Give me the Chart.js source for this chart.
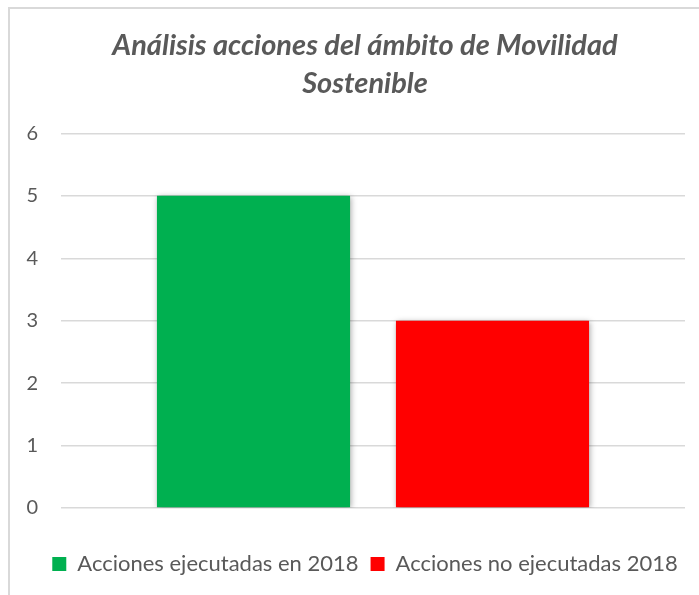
<!DOCTYPE html>
<html>
<head>
<meta charset="utf-8">
<script src="https://cdn.jsdelivr.net/npm/chart.js@4"></script>
<style>
  body { margin: 0; background: #fff; }
  #wrap { position: relative; width: 699px; height: 595px; overflow: hidden; }
  #frame { position: absolute; left: 8px; top: 7px; width: 760px; height: 660px;
           border-left: 2px solid #d9d9d9; border-top: 2px solid #d9d9d9; }
  canvas { position: absolute; left: 0; top: 0; }
</style>
</head>
<body>
<div id="wrap">
  <div id="frame"></div>
  <!-- the original chart box runs past the right edge, so the canvas does too -->
  <canvas id="myChart" width="730" height="595"></canvas>
</div>
<script>
// data
const categories = ['Movilidad Sostenible'];
const seriesNames = ['Acciones ejecutadas en 2018', 'Acciones no ejecutadas 2018'];
const ejecutadas = [5];
const noEjecutadas = [3];
const yTicks = [0, 1, 2, 3, 4, 5, 6];

const grey = '#595959';

// soft shadow under the bars, like the original
const barShadow = {
    id: 'barShadow',
    beforeDatasetsDraw(chart) {
        const ctx = chart.ctx;
        ctx.save();
        ctx.shadowColor = 'rgba(0,0,0,0.35)';
        ctx.shadowBlur = 6;
        ctx.shadowOffsetX = 1;
        ctx.shadowOffsetY = 1;
    },
    afterDatasetsDraw(chart) {
        chart.ctx.restore();
    }
};

// title and legend are centred on the whole (cropped) box, not the padded area
const recentre = {
    id: 'recentre',
    afterLayout(chart) {
        [chart.titleBlock, chart.legend].forEach(box => {
            if (!box) return;
            const w = box.right - box.left;
            box.left = 365 - w / 2;
            box.right = 365 + w / 2;
        });
    }
};

function createChart() {
    const data = {
        labels: categories,
        datasets: [{
            label: seriesNames[0],
            data: ejecutadas,
            backgroundColor: '#00B050',
            categoryPercentage: 0.766,
            barPercentage: 0.808
        }, {
            label: seriesNames[1],
            data: noEjecutadas,
            backgroundColor: '#FF0000',
            categoryPercentage: 0.766,
            barPercentage: 0.808
        }]
    };

    const config = {
        type: 'bar',
        data: data,
        plugins: [barShadow, recentre],
        options: {
            responsive: false,
            animation: false,
            layout: { padding: { left: 10, right: 45, top: 10, bottom: 10 } },
            plugins: {
                title: {
                    display: true,
                    text: ['Análisis acciones del ámbito de Movilidad', 'Sostenible'],
                    color: grey,
                    font: { family: 'Lato', size: 29, weight: 'bold', style: 'italic', lineHeight: 1.3 },
                    padding: { top: 17, bottom: 31 }
                },
                legend: {
                    position: 'bottom',
                    labels: {
                        color: grey,
                        font: { family: 'Lato', size: 22 },
                        boxWidth: 14,
                        boxHeight: 14,
                        padding: 12
                    }
                },
                tooltip: { enabled: false }
            },
            scales: {
                x: {
                    display: true,
                    grid: { display: false },
                    border: { display: false },
                    ticks: { display: false },
                    afterFit(axis) { axis.height = 33; }
                },
                y: {
                    min: 0,
                    max: 6,
                    afterBuildTicks(axis) {
                        axis.ticks = yTicks.map(v => ({ value: v }));
                    },
                    afterFit(axis) { axis.width = 51; },
                    border: { display: false },
                    grid: { color: '#d9d9d9', lineWidth: 1.5, drawTicks: false },
                    ticks: {
                        color: grey,
                        padding: 23,
                        font: { family: 'Lato', size: 20 }
                    }
                }
            }
        }
    };

    new Chart(document.getElementById('myChart'), config);
}

createChart();
</script>
</body>
</html>
